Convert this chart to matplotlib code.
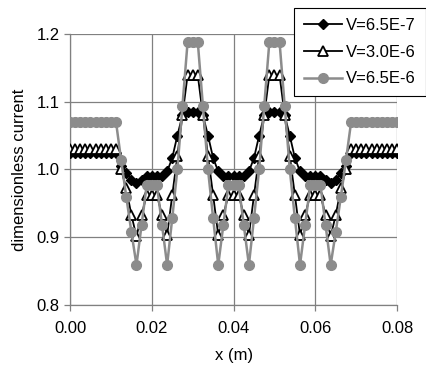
import numpy as np
import matplotlib.pyplot as plt

plt.rcParams['font.family'] = ['Liberation Sans', 'DejaVu Sans']

# positions along the device, 65 samples from 0 to 0.08 m
x = np.linspace(0.0, 0.08, 65)

labels = ['V=6.5E-7', 'V=3.0E-6', 'V=6.5E-6']

# V=6.5E-7 (black diamonds)
i_low = [1.025, 1.025, 1.025, 1.025, 1.025, 1.025, 1.025, 1.025, 1.025, 1.025,
         1.005, 0.995, 0.985, 0.980, 0.985, 0.990, 0.990, 0.990, 0.990, 0.997,
         1.017, 1.050, 1.080, 1.085, 1.085, 1.085, 1.080, 1.050, 1.017, 0.997,
         0.990, 0.990, 0.990, 0.990, 0.990, 0.997, 1.017, 1.050, 1.080, 1.085,
         1.085, 1.085, 1.080, 1.050, 1.017, 0.997, 0.990, 0.990, 0.990, 0.990,
         0.985, 0.980, 0.985, 0.995, 1.005, 1.025, 1.025, 1.025, 1.025, 1.025,
         1.025, 1.025, 1.025, 1.025, 1.025]

# V=3.0E-6 (open triangles)
i_mid = [1.030, 1.030, 1.030, 1.030, 1.030, 1.030, 1.030, 1.030, 1.030, 1.030,
         1.000, 0.972, 0.933, 0.901, 0.933, 0.962, 0.962, 0.962, 0.933, 0.903,
         0.962, 1.020, 1.080, 1.139, 1.139, 1.139, 1.080, 1.020, 0.962, 0.903,
         0.933, 0.962, 0.962, 0.962, 0.933, 0.903, 0.962, 1.020, 1.080, 1.139,
         1.139, 1.139, 1.080, 1.020, 0.962, 0.903, 0.933, 0.962, 0.962, 0.962,
         0.933, 0.901, 0.933, 0.972, 1.000, 1.030, 1.030, 1.030, 1.030, 1.030,
         1.030, 1.030, 1.030, 1.030, 1.030]

# V=6.5E-6 (grey circles)
i_high = [1.070, 1.070, 1.070, 1.070, 1.070, 1.070, 1.070, 1.070, 1.070, 1.070,
          1.014, 0.960, 0.908, 0.859, 0.918, 0.977, 0.977, 0.977, 0.918, 0.859,
          0.928, 1.000, 1.094, 1.188, 1.188, 1.188, 1.094, 1.000, 0.928, 0.859,
          0.918, 0.977, 0.977, 0.977, 0.918, 0.859, 0.928, 1.000, 1.094, 1.188,
          1.188, 1.188, 1.094, 1.000, 0.928, 0.859, 0.918, 0.977, 0.977, 0.977,
          0.918, 0.859, 0.908, 0.960, 1.014, 1.070, 1.070, 1.070, 1.070, 1.070,
          1.070, 1.070, 1.070, 1.070, 1.070]

xticks = [0.00, 0.02, 0.04, 0.06, 0.08]
yticks = [0.8, 0.9, 1.0, 1.1, 1.2]

fig = plt.figure(figsize=(4.27, 3.70), dpi=100)
ax = fig.add_axes([0.164, 0.176, 0.766, 0.732])

ax.plot(x, i_low, '-', color='black', lw=1.3, marker='D', ms=5.5,
        mfc='black', mec='black', label=labels[0], zorder=3)
ax.plot(x, i_mid, '-', color='black', lw=1.3, marker='^', ms=7,
        mfc='white', mec='black', mew=1.3, label=labels[1], zorder=4)
ax.plot(x, i_high, '-', color='#8c8c8c', lw=1.8, marker='o', ms=7,
        mfc='#8c8c8c', mec='#8c8c8c', label=labels[2], zorder=5)

ax.set_xlim(0, 0.08)
ax.set_ylim(0.8, 1.2)
ax.set_xticks(xticks)
ax.set_yticks(yticks)
ax.set_xticklabels(['%.2f' % t for t in xticks])
ax.set_yticklabels(['%.1f' % t for t in yticks])
ax.grid(True, color='#808080', lw=0.9)
ax.set_axisbelow(True)

for s in ['top', 'right']:
    ax.spines[s].set_visible(False)
for s in ['left', 'bottom']:
    ax.spines[s].set_color('#808080')
    ax.spines[s].set_linewidth(0.9)

ax.tick_params(direction='out', length=4.5, width=0.9, color='#808080',
               labelsize=12, labelcolor='black')
ax.tick_params(axis='x', pad=7)
ax.tick_params(axis='y', pad=3)

ax.set_xlabel('x (m)', fontsize=12, labelpad=9)
ax.set_ylabel('dimensionless current', fontsize=12, labelpad=7)

leg = ax.legend(loc='upper right', bbox_to_anchor=(0.998, 0.978),
                bbox_transform=fig.transFigure, fontsize=12,
                fancybox=False, framealpha=1, edgecolor='black',
                handlelength=2.3, handletextpad=0.25, labelspacing=0.7,
                borderpad=0.6, borderaxespad=0)
leg.get_frame().set_linewidth(0.8)

fig.savefig('out.png', dpi=100)
